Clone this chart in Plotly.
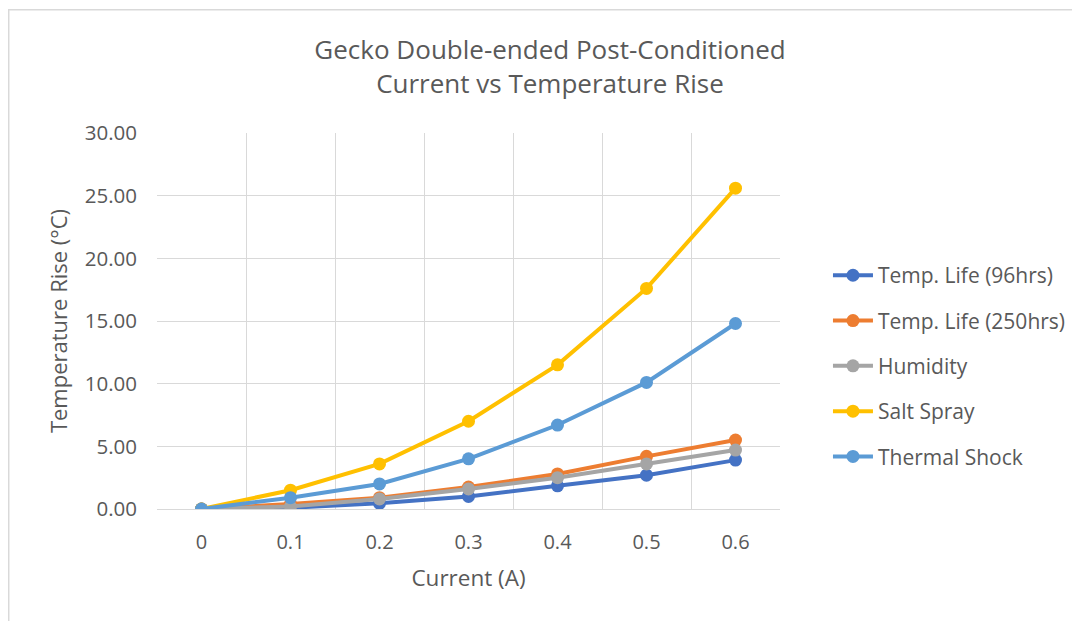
import plotly.graph_objects as go

current = ["0", "0.1", "0.2", "0.3", "0.4", "0.5", "0.6"]
temp_life_96 = [0.0, 0.1, 0.45, 1.0, 1.85, 2.7, 3.9]
temp_life_250 = [0.0, 0.4, 0.9, 1.75, 2.8, 4.2, 5.5]
humidity = [0.0, 0.2, 0.8, 1.6, 2.5, 3.6, 4.7]
salt_spray = [0.0, 1.5, 3.6, 7.0, 11.5, 17.6, 25.6]
thermal_shock = [0.0, 0.9, 2.0, 4.0, 6.7, 10.1, 14.8]

series = [
    ("Temp. Life (96hrs)", temp_life_96, "#4472C4"),
    ("Temp. Life (250hrs)", temp_life_250, "#ED7D31"),
    ("Humidity", humidity, "#A5A5A5"),
    ("Salt Spray", salt_spray, "#FFC000"),
    ("Thermal Shock", thermal_shock, "#5B9BD5"),
]

fig = go.Figure()
for i, (name, vals, col) in enumerate(series):
    fig.add_trace(go.Scatter(
        x=current, y=vals, name=name, mode="lines+markers",
        line=dict(color=col, width=4),
        marker=dict(color=col, size=13),
        legendgroup=f"g{i}",
    ))

font = "Open Sans, Liberation Sans, sans-serif"
fig.update_layout(
    width=1072, height=613,
    autosize=False,
    paper_bgcolor="white", plot_bgcolor="white",
    margin=dict(l=149, r=300, t=125, b=112, autoexpand=False),
    font=dict(family=font, color="#595959", size=20),
    title=dict(
        text="Gecko Double-ended Post-Conditioned<br>Current vs Temperature Rise",
        x=0.5056, xanchor="center", y=0.916, yanchor="middle",
        font=dict(size=26, color="#595959", family=font),
    ),
    xaxis=dict(
        type="category", range=[-0.5, 6.5],
        showgrid=True, gridcolor="#D9D9D9", gridwidth=1,
        showline=True, linecolor="#D9D9D9", mirror=False,
        tickfont=dict(size=20, color="#595959"),
        title=dict(text="Current (A)", font=dict(size=22.5, color="#595959"), standoff=16),
        ticks="", tickson="boundaries", ticklabelstandoff=15,
    ),
    yaxis=dict(
        range=[0, 30], dtick=5, tickformat=".2f",
        showgrid=True, gridcolor="#D9D9D9", gridwidth=1,
        zeroline=True, zerolinecolor="#D9D9D9",
        tickfont=dict(size=20.5, color="#595959"),
        title=dict(text="Temperature Rise (°C)", font=dict(size=22, color="#595959"), standoff=11),
        ticks="", ticklabelstandoff=19,
    ),
    legend=dict(
        x=1.077, xanchor="left", y=0.38, yanchor="middle",
        font=dict(size=21, color="#595959"),
        tracegroupgap=15, itemwidth=40,
    ),
    showlegend=True,
)
fig.add_shape(type="rect", xref="paper", yref="paper",
              x0=-0.238, x1=1.6, y0=-0.4, y1=1.328,
              line=dict(color="#D9D9D9", width=1.5))

fig.write_html("out.html")
